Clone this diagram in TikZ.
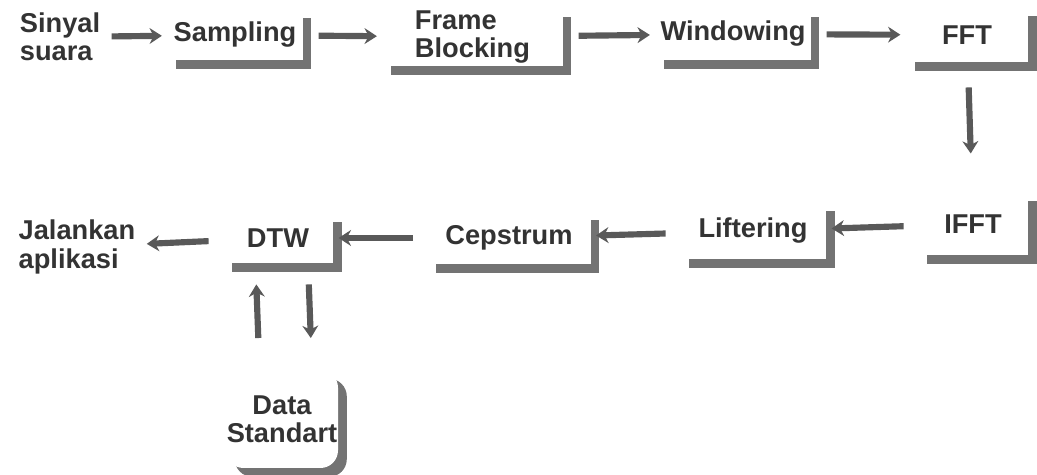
\documentclass[tikz,border=0pt]{standalone}
\usepackage{fontspec}
\setmainfont{Liberation Sans}
\usetikzlibrary{shadows,arrows.meta}

\begin{document}
\begin{tikzpicture}[every node/.style={font=\bfseries\fontsize{15.5}{16}\selectfont, text=black!80},
    blok/.style={fill=white, inner sep=0pt, drop shadow={opacity=1, fill=black!55, shadow xshift=5pt, shadow yshift=-5pt}},
    panah/.style={line width=3.5pt, draw=black!65, -{Stealth[length=7pt,width=9pt]}, shorten <=3pt, shorten >=3pt}]
      \useasboundingbox (0,0) rectangle (20.74,9.5);

      \node[align=left] (A) at (1.2,8.76) {Sinyal\\suara};
      \node[blok, minimum width=2.7cm, minimum height=1.02cm] (B) at (4.70,8.80) {Sampling};
      \node[blok, minimum width=3.6cm, minimum height=1.16cm, align=left] (C) at (9.45,8.76) {Frame\\Blocking};
      \node[blok, minimum width=3.1cm, minimum height=1.04cm] (D) at (14.66,8.82) {Windowing};
      \node[blok, minimum width=2.44cm, minimum height=1.1cm] (E) at (19.34,8.80) {FFT};
      \node[blok, minimum width=2.2cm, minimum height=1.26cm] (F) at (19.46,5.02) {IFFT};
      \node[blok, minimum width=2.92cm, minimum height=1.14cm] (G) at (15.06,4.88) {Liftering};
      \node[blok, minimum width=3.26cm, minimum height=1.06cm] (H) at (10.18,4.74) {Cepstrum};
      \node[blok, minimum width=2.2cm, minimum height=1.0cm] (I) at (5.56,4.74) {DTW};
      \node[align=left] (J) at (1.54,4.56) {Jalankan\\aplikasi};
      \node[blok, rounded corners=10pt, minimum width=2.24cm, minimum height=1.96cm, align=center] (K) at (5.64,1.12) {Data\\Standart};

      \draw[panah] (A) -- (B);
      \draw[panah, shorten <=9pt] (B) -- (C);
      \draw[panah, shorten <=9pt] (C) -- (D);
      \draw[panah, shorten <=9pt] (D) -- (E);
      \draw[panah, shorten <=14pt, shorten >=22pt] (E) -- (F);
      \draw[panah, shorten <=8pt] (F) -- (G);
      \draw[panah, shorten <=8pt] (G) -- (H);
      \draw[panah, shorten <=8pt] (H) -- (I);
      \draw[panah, shorten <=8pt] (I) -- (J);
      \draw[panah, shorten <=18pt, shorten >=12pt] ([xshift=-0.45cm]K.north) -- ([xshift=-0.45cm]I.south);
      \draw[panah, shorten <=12pt, shorten >=18pt] ([xshift=0.6cm]I.south) -- ([xshift=0.6cm]K.north);
    \end{tikzpicture}
\end{document}
